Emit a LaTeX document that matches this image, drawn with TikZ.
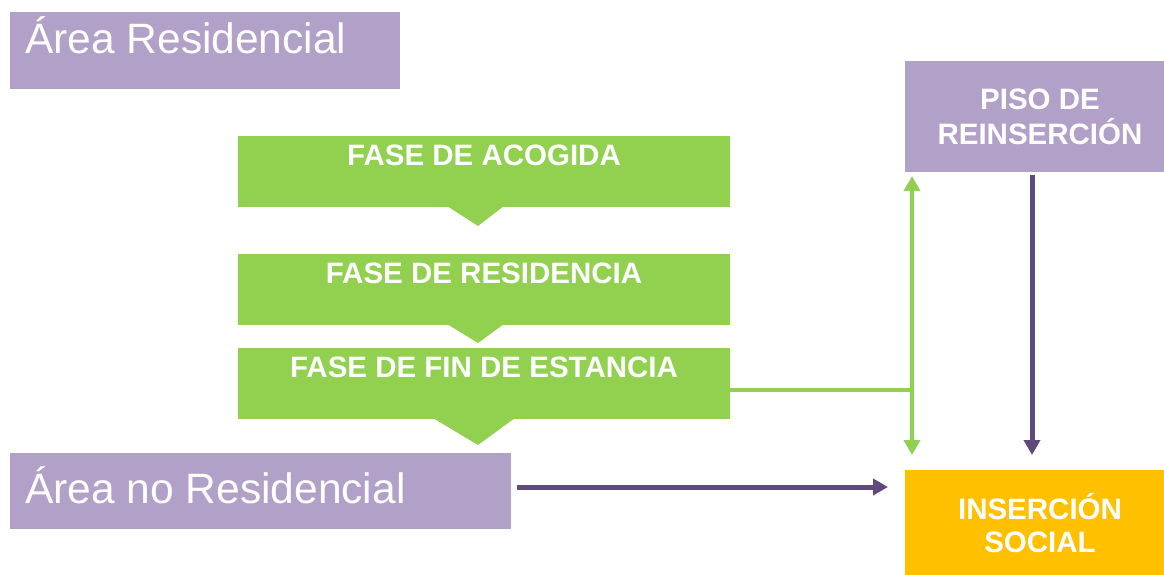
\documentclass[tikz,border=0pt]{standalone}
\usepackage{fontspec}
\setmainfont{Liberation Sans}
\usetikzlibrary{arrows.meta}
\definecolor{lav}{HTML}{B1A0C7}
\definecolor{grn}{HTML}{92D050}
\definecolor{gold}{HTML}{FFC000}
\definecolor{dpur}{HTML}{604A7B}
\tikzset{
  box/.style={draw=none, inner sep=0pt, outer sep=0pt, anchor=north west},
  areatxt/.style={inner sep=0pt, anchor=base west, text=white, font=\fontsize{42.5}{50}\selectfont},
  boldtxt/.style={inner sep=0pt, anchor=base, text=white, font=\fontsize{29.5}{35}\selectfont\bfseries},
  garrow/.style={draw=grn, line width=4pt, -{Triangle[width=16pt,length=15pt]}},
  gline/.style={draw=grn, line width=4pt},
  parrow/.style={draw=dpur, line width=5pt, -{Triangle[width=16pt,length=15pt]}},
}
\begin{document}
\begin{tikzpicture}[x=1pt,y=-1pt]
\useasboundingbox (0,0) rectangle (1164,575);
% boxes
\node[box, fill=lav, minimum width=390pt, minimum height=77pt] (res) at (10,12) {};
\node[areatxt] (restxt) at (25,54) {Área Residencial};
\node[box, fill=lav, minimum width=501pt, minimum height=76pt] (nores) at (10,453) {};
\node[areatxt] (norestxt) at (25,503) {Área no Residencial};

\node[box, fill=grn, minimum width=492pt, minimum height=71pt] (acog) at (238,136) {};
\fill[grn] (447,206) -- (504,206) -- (478,226) -- cycle;
\node[boldtxt] (acogtxt) at (484,165) {FASE DE ACOGIDA};

\node[box, fill=grn, minimum width=492pt, minimum height=71pt] (resid) at (238,254) {};
\fill[grn] (447,324) -- (504,324) -- (478,343) -- cycle;
\node[boldtxt] (residtxt) at (484,283) {FASE DE RESIDENCIA};

\node[box, fill=grn, minimum width=492pt, minimum height=71pt] (fin) at (238,348) {};
\fill[grn] (433,418) -- (515,418) -- (478,445) -- cycle;
\node[boldtxt] (fintxt) at (484,377) {FASE DE FIN DE ESTANCIA};

\node[box, fill=lav, minimum width=260pt, minimum height=111pt] (piso) at (905,61) {};
\node[boldtxt] (pisotxt1) at (1040,110) {PISO DE};
\node[boldtxt] (pisotxt2) at (1040,145) {REINSERCIÓN};

\node[box, fill=gold, minimum width=260pt, minimum height=106pt] (ins) at (905,470) {};
\node[boldtxt] (instxt1) at (1040,519) {INSERCIÓN};
\node[boldtxt] (instxt2) at (1040,552) {SOCIAL};

% connectors
\coordinate (j) at (912,390);
\draw[gline] (fin.east |- j) -- ([xshift=2pt]j);
\draw[garrow] ([yshift=2pt]j) -- ([yshift=-4pt]piso.south -| j);
\draw[garrow] ([yshift=-2pt]j) -- ([yshift=15pt]ins.north -| j);

\coordinate (pv) at (1032,0);
\draw[parrow] ([yshift=-3pt]piso.south -| pv) -- ([yshift=15pt]ins.north -| pv);

\coordinate (ph) at (0,487);
\draw[parrow] ([xshift=6pt]nores.east |- ph) -- ([xshift=-17pt]ins.west |- ph);
\end{tikzpicture}
\end{document}
